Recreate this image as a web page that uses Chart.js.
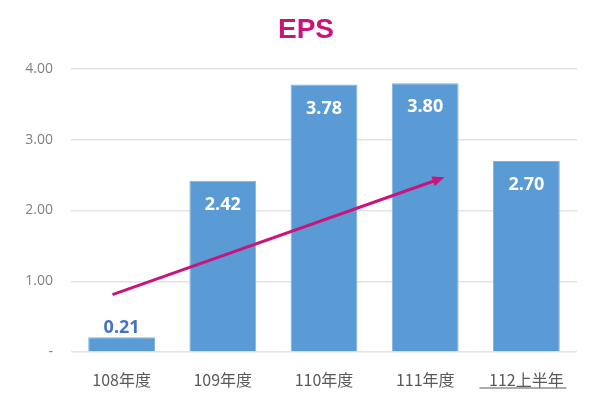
<!DOCTYPE html>
<html>
<head>
<meta charset="utf-8">
<script src="https://cdn.jsdelivr.net/npm/chart.js@4"></script>
<style>
  html, body { margin: 0; padding: 0; background: #fff; }
  #wrap { width: 600px; height: 400px; }
</style>
</head>
<body>
<div id="wrap"><canvas id="eps-chart"></canvas></div>
<script>
'use strict';

//**************DATA********** */
let categories = ['108年度', '109年度', '110年度', '111年度', '112上半年'];
let epsValues = [0.21, 2.42, 3.78, 3.80, 2.70];
let yTicks = [0, 1, 2, 3, 4];
// arrow start/end in data units: [category index, value]
let arrowFrom = [-0.09, 0.81];
let arrowTo = [3.19, 2.47];

let barColor = '#5B9BD5';
let accent = '#C8157C';
let cjkFont = '"Noto Sans CJK TC", "Noto Sans", sans-serif';
let numFont = '"Open Sans", "Noto Sans", sans-serif';

//**************PLUGINS********** */
let titleText = {
  id: 'titleText',
  afterDraw(chart) {
    let ctx = chart.ctx;
    ctx.save();
    ctx.font = 'bold 28px "Liberation Sans", Arial, sans-serif';
    ctx.fillStyle = accent;
    ctx.textAlign = 'center';
    ctx.textBaseline = 'alphabetic';
    ctx.fillText('EPS', 306, 38);
    ctx.restore();
  }
};

let valueLabels = {
  id: 'valueLabels',
  afterDatasetsDraw(chart) {
    let ctx = chart.ctx;
    let meta = chart.getDatasetMeta(0);
    ctx.save();
    ctx.font = 'bold 18px ' + numFont;
    ctx.textAlign = 'center';
    ctx.textBaseline = 'alphabetic';
    meta.data.forEach((bar, i) => {
      let v = epsValues[i];
      if (v < 0.5) {
        ctx.fillStyle = '#4472C4';
        ctx.fillText(v.toFixed(2), bar.x, bar.y - 4);
      } else {
        ctx.fillStyle = '#fff';
        ctx.fillText(v.toFixed(2), bar.x, bar.y + 29);
      }
    });
    ctx.restore();
  }
};

let trendArrow = {
  id: 'trendArrow',
  afterDatasetsDraw(chart) {
    let ctx = chart.ctx;
    let xs = chart.scales.x;
    let ys = chart.scales.y;
    let step = xs.getPixelForValue(1) - xs.getPixelForValue(0);
    let x0 = xs.getPixelForValue(0) + step * arrowFrom[0];
    let x1 = xs.getPixelForValue(0) + step * arrowTo[0];
    let y0 = ys.getPixelForValue(arrowFrom[1]);
    let y1 = ys.getPixelForValue(arrowTo[1]);
    let ang = Math.atan2(y1 - y0, x1 - x0);
    let head = 13;
    ctx.save();
    ctx.strokeStyle = accent;
    ctx.fillStyle = accent;
    ctx.lineWidth = 3;
    ctx.beginPath();
    ctx.moveTo(x0, y0);
    ctx.lineTo(x1 - Math.cos(ang) * head * 0.8, y1 - Math.sin(ang) * head * 0.8);
    ctx.stroke();
    ctx.beginPath();
    ctx.moveTo(x1, y1);
    ctx.lineTo(x1 - head * Math.cos(ang - 0.4), y1 - head * Math.sin(ang - 0.4));
    ctx.lineTo(x1 - head * Math.cos(ang + 0.4), y1 - head * Math.sin(ang + 0.4));
    ctx.closePath();
    ctx.fill();
    ctx.restore();
  }
};

// underline under the last category label
let lastLabelLine = {
  id: 'lastLabelLine',
  afterDraw(chart) {
    let ctx = chart.ctx;
    let xs = chart.scales.x;
    let cx = xs.getPixelForValue(categories.length - 1);
    let y = chart.chartArea.bottom + 36;
    ctx.save();
    ctx.strokeStyle = '#595959';
    ctx.lineWidth = 1;
    ctx.beginPath();
    ctx.moveTo(cx - 47, y);
    ctx.lineTo(cx + 40, y);
    ctx.stroke();
    ctx.restore();
  }
};

//**************CHART********** */
let chartObj = {
  type: 'bar',
  data: {
    labels: categories,
    datasets: [{
      label: 'EPS',
      data: epsValues,
      backgroundColor: barColor,
      borderColor: '#7FB2E0',
      borderWidth: 1,
      barPercentage: 0.66,
      categoryPercentage: 1
    }]
  },
  options: {
    responsive: false,
    animation: false,
    layout: { padding: { left: 0, right: 23, top: 69, bottom: 0 } },
    plugins: {
      legend: { display: false },
      tooltip: { enabled: false },
      title: { display: false }
    },
    scales: {
      x: {
        afterFit(scale) { scale.height = 48; },
        grid: { display: false },
        border: { display: false },
        ticks: {
          color: '#595959',
          font: { family: cjkFont, size: 16 },
          padding: 10
        }
      },
      y: {
        min: 0,
        max: 4,
        afterFit(scale) { scale.width = 71; },
        afterBuildTicks(scale) { scale.ticks = yTicks.map(v => ({ value: v })); },
        grid: { color: '#E3E3E3', lineWidth: 1.5, drawTicks: false },
        border: { display: false },
        ticks: {
          color: '#808080',
          font: { family: numFont, size: 14 },
          padding: 18,
          callback: v => (v === 0 ? '-' : v.toFixed(2))
        }
      }
    }
  },
  plugins: [valueLabels, trendArrow, lastLabelLine, titleText]
};

let canvas = document.getElementById('eps-chart');
canvas.width = 600;
canvas.height = 400;
new Chart(canvas, chartObj);
</script>
</body>
</html>
